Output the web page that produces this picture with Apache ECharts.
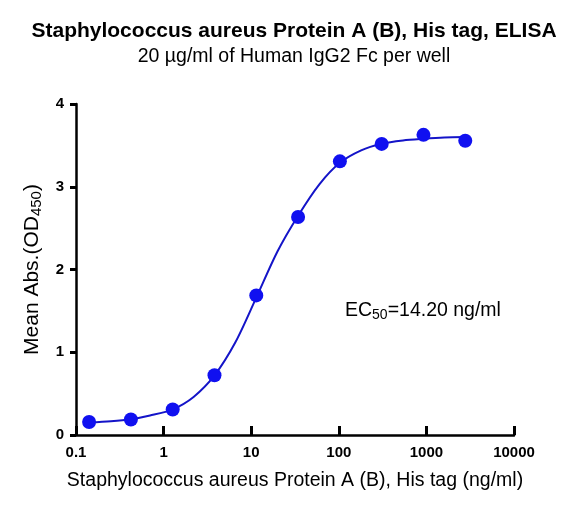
<!DOCTYPE html>
<html>
<head>
<meta charset="utf-8">
<script src="https://cdn.jsdelivr.net/npm/echarts@6/dist/echarts.min.js"></script>
<style>
  html, body { margin: 0; padding: 0; background: #fff; }
  #main { width: 577px; height: 507px; }
</style>
</head>
<body>
<div id="main"></div>
<script>
// measured points (ng/ml, OD450)
var conc = [0.1411, 0.4234, 1.27, 3.81, 11.43, 34.29, 102.9, 308.6, 926, 2778];
var absMean = [0.157, 0.187, 0.308, 0.722, 1.687, 2.635, 3.307, 3.518, 3.627, 3.555];

// fitted curve
var curveX = [0.1411, 0.25, 0.4234, 0.7, 1.27, 2.2, 3.81, 6.6, 11.43, 20, 34.29, 60, 102.9, 180, 308.6, 540, 926, 1600, 2778];
var curveY = [0.15, 0.165, 0.19, 0.235, 0.31, 0.46, 0.72, 1.12, 1.66, 2.22, 2.65, 3.03, 3.29, 3.44, 3.52, 3.56, 3.58, 3.595, 3.60];

var xTicks = [0.1, 1, 10, 100, 1000, 10000];
var yTicks = [0, 1, 2, 3, 4];

var font = 'Liberation Sans, Arial, sans-serif';
var chart = echarts.init(document.getElementById('main'));

var option = {
  animation: false,
  title: {
    text: 'Staphylococcus aureus Protein A (B), His tag, ELISA',
    subtext: '20 \u00b5g/ml of Human IgG2 Fc per well',
    left: 294,
    textAlign: 'center',
    top: 21,
    padding: 0,
    itemGap: 5,
    textStyle: { fontFamily: font, fontSize: 21, fontWeight: 'bold', color: '#000' },
    subtextStyle: { fontFamily: font, fontSize: 19.5, color: '#000' }
  },
  grid: { left: 76, right: 63, top: 104, bottom: 72 },
  xAxis: {
    type: 'log',
    logBase: 10,
    min: xTicks[0],
    max: xTicks[xTicks.length - 1],
    name: 'Staphylococcus aureus Protein A (B), His tag (ng/ml)',
    nameLocation: 'middle',
    nameGap: 36,
    nameTextStyle: { fontFamily: font, fontSize: 19.5, color: '#000' },
    axisLine: { lineStyle: { color: '#000', width: 2.5 } },
    axisTick: { inside: true, length: 9, lineStyle: { color: '#000', width: 3 } },
    minorTick: { show: false },
    splitLine: { show: false },
    axisLabel: {
      margin: 10,
      fontFamily: font, fontSize: 15, fontWeight: 'bold', color: '#000',
      formatter: function (v) { return String(+v.toPrecision(6)); }
    }
  },
  yAxis: {
    type: 'value',
    min: yTicks[0],
    max: yTicks[yTicks.length - 1],
    interval: 1,
    name: '{n|Mean Abs.(OD}{s|450}{n|)}',
    nameLocation: 'middle',
    nameGap: 30,
    nameTextStyle: {
      rich: {
        n: { fontFamily: font, fontSize: 21, color: '#000' },
        s: { fontFamily: font, fontSize: 15, color: '#000', verticalAlign: 'bottom', padding: [10, 0, 0, 0] }
      }
    },
    axisLine: { show: true, lineStyle: { color: '#000', width: 2.5 } },
    axisTick: { show: true, length: 6, lineStyle: { color: '#000', width: 3 } },
    splitLine: { show: false },
    axisLabel: { margin: 12, fontFamily: font, fontSize: 15, fontWeight: 'bold', color: '#000' }
  },
  graphic: [{
    type: 'text',
    left: 345,
    top: 301,
    style: {
      text: '{n|EC}{s|50}{n|=14.20 ng/ml}',
      rich: {
        n: { fontFamily: font, fontSize: 19.5, fill: '#000' },
        s: { fontFamily: font, fontSize: 14, fill: '#000', padding: [9, 0, 0, 0] }
      }
    }
  }],
  series: [
    {
      type: 'line',
      data: curveX.map(function (x, i) { return [x, curveY[i]]; }),
      smooth: 0.3,
      showSymbol: false,
      lineStyle: { color: '#1414c8', width: 2 },
      z: 2
    },
    {
      type: 'scatter',
      data: conc.map(function (x, i) { return [x, absMean[i]]; }),
      symbolSize: 14,
      itemStyle: { color: '#1010f0', opacity: 1 },
      z: 3
    }
  ]
};
chart.setOption(option);
</script>
</body>
</html>
